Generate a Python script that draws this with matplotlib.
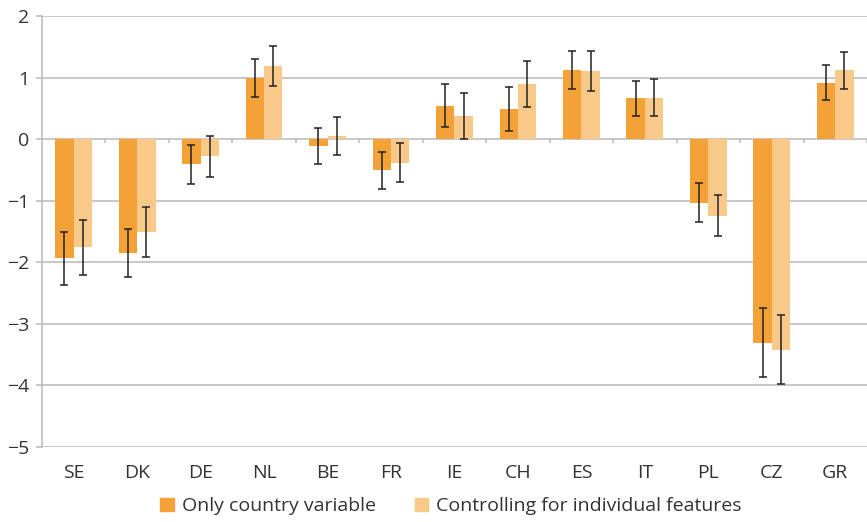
import numpy as np
import matplotlib
matplotlib.use("Agg")
import matplotlib.pyplot as plt
from matplotlib.patches import Patch

plt.rcParams['font.family'] = ['Open Sans', 'DejaVu Sans']

countries = ["SE", "DK", "DE", "NL", "BE", "FR", "IE", "CH", "ES", "IT", "PL", "CZ", "GR"]

# only country variable
only_val = [-1.93, -1.85, -0.40, 1.00, -0.11, -0.50, 0.54, 0.49, 1.12, 0.67, -1.03, -3.31, 0.91]
only_hi = [-1.50, -1.46, -0.09, 1.31, 0.18, -0.21, 0.90, 0.84, 1.43, 0.95, -0.71, -2.75, 1.20]
only_lo = [-2.37, -2.24, -0.73, 0.68, -0.40, -0.81, 0.20, 0.14, 0.82, 0.38, -1.34, -3.86, 0.63]

# controlling for individual features
ctrl_val = [-1.75, -1.51, -0.27, 1.19, 0.05, -0.38, 0.38, 0.89, 1.10, 0.67, -1.25, -3.42, 1.12]
ctrl_hi = [-1.31, -1.10, 0.05, 1.52, 0.36, -0.06, 0.75, 1.27, 1.43, 0.97, -0.91, -2.86, 1.41]
ctrl_lo = [-2.21, -1.92, -0.61, 0.86, -0.25, -0.69, 0.00, 0.52, 0.78, 0.37, -1.58, -3.97, 0.82]

dark = "#F4A137"
light = "#F9C98A"
grid = "#BEBEBE"
txt = "#333333"

x = np.arange(len(countries))
w = 0.29

fig = plt.figure(figsize=(8.67, 5.22), dpi=100)
ax = fig.add_axes([0.0484, 0.1437, 0.9516, 0.8256])

for v in range(-5, 3):
    ax.axhline(v, color=grid, lw=1.2, zorder=0)

def errs(val, lo, hi):
    val = np.array(val); lo = np.array(lo); hi = np.array(hi)
    return [val - lo, hi - val]

ax.bar(x - w/2, only_val, w, color=dark, zorder=2)
ax.bar(x + w/2, ctrl_val, w, color=light, zorder=2)
ax.errorbar(x - w/2, only_val, yerr=errs(only_val, only_lo, only_hi), fmt="none",
            ecolor="#222222", elinewidth=1.1, capsize=3, capthick=1.1, zorder=3)
ax.errorbar(x + w/2, ctrl_val, yerr=errs(ctrl_val, ctrl_lo, ctrl_hi), fmt="none",
            ecolor="#222222", elinewidth=1.1, capsize=3, capthick=1.1, zorder=3)

# small tick marks on the zero line between categories
bounds = np.arange(len(countries) + 1) - 0.5
ax.vlines(bounds[1:], 0, -0.07, color=grid, lw=1.2, zorder=1)

ax.set_xlim(-0.5, len(countries) - 0.5)
ax.set_ylim(-5, 2)
ax.set_yticks(range(-5, 3))
ax.set_yticklabels([str(v).replace("-", "\u2212") for v in range(-5, 3)])
ax.set_xticks(x)
ax.set_xticklabels(countries)

for s in ["top", "right", "bottom"]:
    ax.spines[s].set_visible(False)
ax.spines["left"].set_color(grid)
ax.spines["left"].set_linewidth(1.2)
ax.tick_params(axis="y", colors=grid, length=4, width=1.2, labelcolor=txt, labelsize=14, pad=5)
ax.tick_params(axis="x", length=0, labelcolor=txt, labelsize=14, pad=12)

handles = [Patch(color=dark), Patch(color=light)]
fig.legend(handles, ["Only country variable", "Controlling for individual features"],
           loc="center", bbox_to_anchor=(0.52, 0.03), ncol=2, frameon=False,
           fontsize=14, handlelength=0.7, handleheight=0.7, handletextpad=0.4,
           columnspacing=2.0, labelcolor=txt)

fig.savefig("out.png", dpi=100)
